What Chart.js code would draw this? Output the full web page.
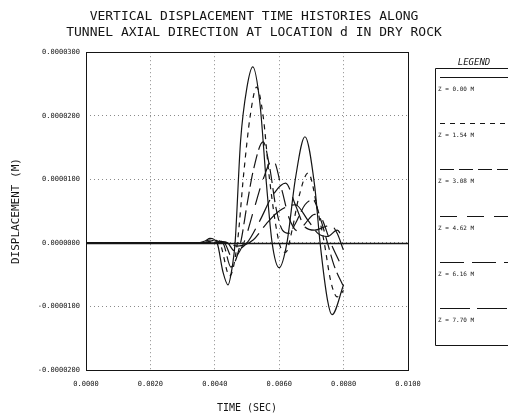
<!DOCTYPE html>
<html lang="en">
<head>
<meta charset="UTF-8" />
<title>Vertical displacement time histories</title>
<script src="https://cdn.jsdelivr.net/npm/chart.js@4.4.1/dist/chart.umd.min.js"></script>
<style>
  html, body { margin: 0; padding: 0; background: #fff; }
  canvas { display: block; }
</style>
</head>
<body>
<canvas id="chart" width="508" height="416"></canvas>
<script>
// depth of each station along the tunnel axis
const zLabels = ["Z = 0.00 M", "Z = 1.54 M", "Z = 3.08 M", "Z = 4.62 M", "Z = 6.16 M", "Z = 7.70 M"];
const dashes = [[], [5, 5], [14, 5], [17, 10], [24, 8], [30, 7]];

const xTickLabels = ["0.0000", "0.0020", "0.0040", "0.0060", "0.0080", "0.0100"];
const yTickLabels = ["-0.0000200", "-0.0000100", "0.0000000", "0.0000100", "0.0000200", "0.0000300"];

// time (sec) / vertical displacement (m)
const t0 = [0, 0.0034, 0.0037, 0.00385, 0.00407, 0.00425, 0.00441, 0.00455, 0.00463, 0.0048, 0.0050, 0.00518, 0.0054, 0.0056, 0.00578, 0.0060, 0.00624, 0.0065, 0.0068, 0.0071, 0.00727, 0.0075, 0.00764, 0.0080];
const d0 = [0, 0, 0.03e-5, 0.07e-5, 0, -0.45e-5, -0.66e-5, -0.35e-5, 0, 1.6e-5, 2.45e-5, 2.77e-5, 2.2e-5, 0.95e-5, 0, -0.39e-5, 0, 1.0e-5, 1.67e-5, 0.9e-5, 0, -0.9e-5, -1.13e-5, -0.66e-5];

const t1 = [0, 0.0035, 0.0039, 0.00415, 0.00446, 0.0047, 0.0049, 0.0051, 0.0053, 0.0055, 0.0057, 0.0060, 0.0062, 0.0064, 0.0066, 0.0069, 0.0072, 0.0074, 0.0076, 0.0078, 0.0080];
const d1 = [0, 0, 0.05e-5, 0, -0.52e-5, 0, 1.1e-5, 2.0e-5, 2.45e-5, 2.0e-5, 1.0e-5, 0, -0.15e-5, 0.2e-5, 0.7e-5, 1.1e-5, 0.5e-5, 0, -0.6e-5, -0.85e-5, -0.75e-5];

const t2 = [0, 0.0036, 0.0040, 0.00425, 0.0045, 0.0048, 0.0050, 0.0052, 0.0055, 0.0057, 0.0059, 0.0061, 0.0063, 0.0065, 0.0068, 0.00705, 0.0073, 0.0075, 0.0077, 0.0080];
const d2 = [0, 0, 0.04e-5, 0, -0.38e-5, 0, 0.6e-5, 1.15e-5, 1.59e-5, 1.2e-5, 0.55e-5, 0.2e-5, 0.15e-5, 0.3e-5, 0.6e-5, 0.68e-5, 0.35e-5, 0, -0.35e-5, -0.69e-5];

const t3 = [0, 0.0037, 0.0041, 0.0043, 0.00455, 0.0049, 0.0052, 0.0055, 0.0058, 0.0061, 0.0063, 0.0066, 0.0068, 0.0071, 0.0073, 0.0076, 0.0080];
const d3 = [0, 0, 0.03e-5, 0, -0.24e-5, 0, 0.5e-5, 1.0e-5, 1.31e-5, 0.8e-5, 0.4e-5, 0.18e-5, 0.3e-5, 0.45e-5, 0.4e-5, 0, -0.43e-5];

const t4 = [0, 0.0038, 0.0042, 0.0044, 0.0046, 0.0050, 0.0054, 0.0058, 0.0062, 0.0065, 0.0068, 0.0071, 0.0074, 0.0076, 0.0078, 0.0080];
const d4 = [0, 0, 0.02e-5, 0, -0.12e-5, 0, 0.35e-5, 0.75e-5, 0.94e-5, 0.6e-5, 0.25e-5, 0.2e-5, 0.25e-5, 0.28e-5, 0.15e-5, -0.12e-5];

const t5 = [0, 0.0039, 0.0043, 0.0047, 0.0052, 0.0056, 0.0060, 0.0065, 0.0069, 0.0072, 0.0075, 0.0078, 0.0080];
const d5 = [0, 0, 0.01e-5, -0.05e-5, 0.05e-5, 0.3e-5, 0.5e-5, 0.6e-5, 0.35e-5, 0.15e-5, 0.1e-5, 0.2e-5, 0.05e-5];

const times = [t0, t1, t2, t3, t4, t5];
const disps = [d0, d1, d2, d3, d4, d5];

const MONO = "'DejaVu Sans Mono', 'Liberation Mono', monospace";
const INK = "#151515";

const datasets = zLabels.map((label, i) => ({
    label: label,
    data: times[i].map((t, k) => ({ x: t, y: disps[i][k] })),
    borderColor: INK,
    borderWidth: 1.2,
    borderDash: dashes[i],
    pointRadius: 0,
    fill: false,
    cubicInterpolationMode: "monotone",
}));

// plot frame and the solid zero line
const framePlugin = {
    id: "frame",
    afterDatasetsDraw(chart) {
        const { ctx, chartArea: a, scales } = chart;
        ctx.save();
        ctx.strokeStyle = INK;
        const y0 = Math.round(scales.y.getPixelForValue(0)) + 0.5;
        ctx.lineWidth = 1.3;
        ctx.beginPath();
        ctx.moveTo(a.left, y0);
        ctx.lineTo(a.right, y0);
        ctx.stroke();
        ctx.lineWidth = 1;
        ctx.strokeRect(Math.round(a.left) + 0.5, Math.round(a.top) + 0.5,
            Math.round(a.right - a.left), Math.round(a.bottom - a.top));
        ctx.restore();
    },
};

// boxed legend on the right, one line sample per station
const legendPlugin = {
    id: "legendBox",
    afterDraw(chart) {
        const ctx = chart.ctx;
        const left = 435.5, top = 68.5, bottom = 345.5;
        ctx.save();
        ctx.strokeStyle = INK;
        ctx.fillStyle = INK;
        ctx.lineWidth = 1;
        ctx.beginPath();
        ctx.moveTo(chart.width, top);
        ctx.lineTo(left, top);
        ctx.lineTo(left, bottom);
        ctx.lineTo(chart.width, bottom);
        ctx.stroke();

        ctx.font = "italic 9px " + MONO;
        ctx.textAlign = "center";
        ctx.fillText("LEGEND", 474, 65);

        chart.data.datasets.forEach((ds, i) => {
            const ly = 77.5 + Math.round(i * 46.2);
            ctx.setLineDash(ds.borderDash);
            ctx.lineWidth = 1.2;
            ctx.beginPath();
            ctx.moveTo(440, ly);
            ctx.lineTo(chart.width, ly);
            ctx.stroke();
            ctx.setLineDash([]);
            ctx.font = "6px " + MONO;
            ctx.textAlign = "left";
            ctx.fillText(ds.label, 438, ly + 13);
        });
        ctx.restore();
    },
};

new Chart("chart", {
    type: "line",
    data: { datasets: datasets },
    plugins: [framePlugin, legendPlugin],
    options: {
        responsive: false,
        animation: false,
        devicePixelRatio: 1,
        plugins: {
            legend: { display: false },
            tooltip: { enabled: false },
            title: {
                display: true,
                text: ["VERTICAL DISPLACEMENT TIME HISTORIES ALONG",
                       "TUNNEL AXIAL DIRECTION AT LOCATION d IN DRY ROCK"],
                color: INK,
                font: { family: MONO, size: 13, weight: "normal", lineHeight: 1.2 },
                padding: { top: 9, bottom: 12 },
            },
        },
        scales: {
            x: {
                type: "linear",
                min: 0,
                max: 0.01,
                afterFit: (scale) => { scale.height = 46; },
                ticks: {
                    stepSize: 0.002,
                    color: INK,
                    padding: 10,
                    maxRotation: 0,
                    font: { family: MONO, size: 7 },
                    callback: (v, i) => xTickLabels[i],
                },
                grid: { color: "#8a8a8a", drawTicks: false },
                border: { display: false, dash: [1, 3] },
                title: {
                    display: true,
                    text: "TIME (SEC)",
                    color: INK,
                    font: { family: MONO, size: 10 },
                    padding: { top: 0, bottom: 2 },
                },
            },
            y: {
                min: -0.00002,
                max: 0.00003,
                afterFit: (scale) => { scale.width = 86; },
                ticks: {
                    stepSize: 0.00001,
                    color: INK,
                    padding: 6,
                    font: { family: MONO, size: 7 },
                    callback: (v, i) => yTickLabels[i],
                },
                grid: { color: "#8a8a8a", drawTicks: false },
                border: { display: false, dash: [1, 3] },
                title: {
                    display: true,
                    text: "DISPLACEMENT (M)",
                    color: INK,
                    font: { family: MONO, size: 11 },
                    padding: { top: 10, bottom: 0 },
                },
            },
            // empty right-hand axis that keeps room for the legend box
            legendRoom: {
                type: "linear",
                position: "right",
                afterFit: (scale) => { scale.width = 100; },
                ticks: { display: false },
                grid: { display: false, drawTicks: false },
                border: { display: false },
            },
        },
    },
});
</script>
</body>
</html>
